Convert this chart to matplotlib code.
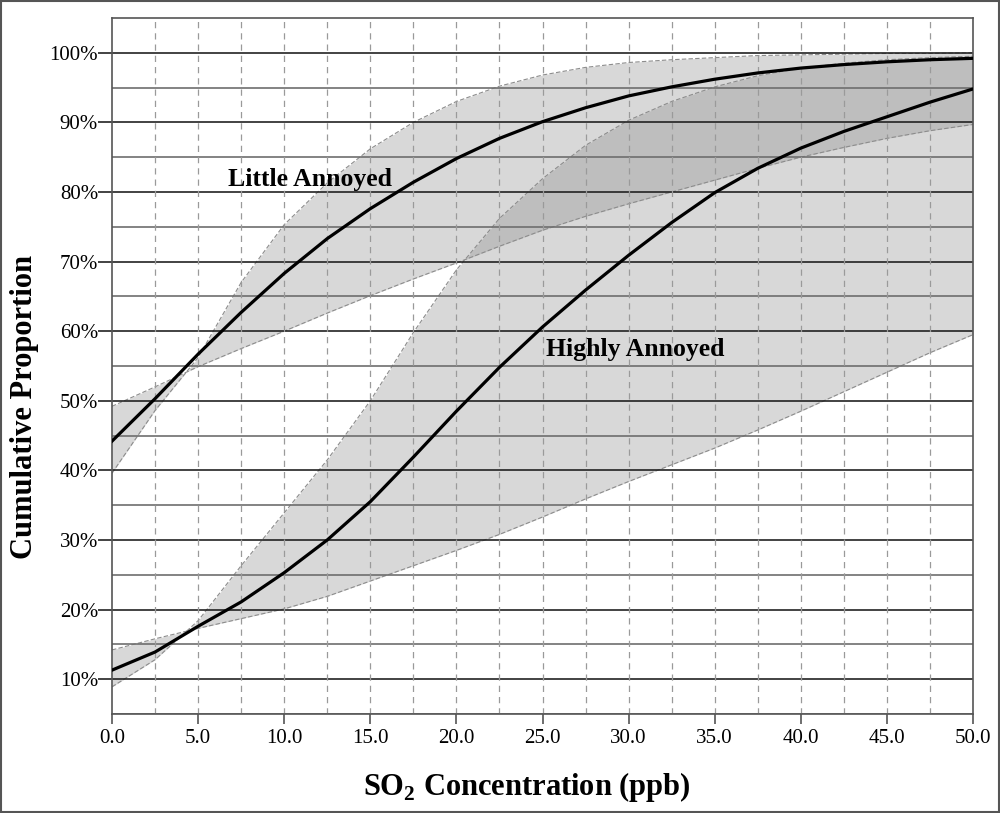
import matplotlib
matplotlib.use("Agg")
import matplotlib.pyplot as plt
from matplotlib.patches import Rectangle
from matplotlib.ticker import MultipleLocator, FuncFormatter

plt.rcParams['font.family'] = ['Liberation Serif', 'DejaVu Serif']
plt.rcParams['mathtext.fontset'] = 'custom'
plt.rcParams['mathtext.rm'] = 'Liberation Serif:bold'
plt.rcParams['mathtext.bf'] = 'Liberation Serif:bold'

# SO2 concentration (ppb)
so2 = [0.0, 2.5, 5.0, 7.5, 10.0, 12.5, 15.0, 17.5, 20.0, 22.5, 25.0,
       27.5, 30.0, 32.5, 35.0, 37.5, 40.0, 42.5, 45.0, 47.5, 50.0]

# Little Annoyed: median and the two bounds of the band (%)
little_mid = [44.2, 50.3, 56.7, 62.7, 68.3, 73.3, 77.6, 81.4, 84.8, 87.7, 90.1,
              92.1, 93.8, 95.1, 96.2, 97.1, 97.8, 98.3, 98.7, 99.0, 99.2]
little_b1 = [39.6, 48.6, 56.2, 67.0, 75.3, 81.3, 86.2, 90.0, 93.0, 95.2, 96.8,
             97.9, 98.6, 99.0, 99.3, 99.6, 99.7, 99.8, 99.9, 99.9, 100.0]
little_b2 = [49.2, 52.0, 54.9, 57.5, 60.0, 62.6, 65.1, 67.5, 69.8, 72.2, 74.5,
             76.5, 78.3, 80.0, 81.7, 83.4, 85.0, 86.4, 87.7, 88.8, 89.7]

# Highly Annoyed: median and the two bounds of the band (%)
highly_mid = [11.3, 13.9, 17.6, 21.1, 25.3, 30.0, 35.5, 41.9, 48.5, 54.8, 60.6,
              65.9, 70.9, 75.6, 79.9, 83.4, 86.3, 88.7, 90.8, 92.9, 94.8]
highly_b1 = [8.9, 12.8, 18.4, 26.3, 33.9, 41.5, 50.0, 59.8, 68.8, 76.2, 81.9,
             86.7, 90.3, 93.0, 95.1, 96.7, 97.8, 98.5, 99.0, 99.3, 99.5]
highly_b2 = [14.2, 15.8, 17.3, 18.7, 20.1, 21.9, 24.1, 26.3, 28.5, 30.8, 33.3,
             35.9, 38.4, 40.8, 43.2, 45.8, 48.5, 51.3, 54.1, 56.9, 59.5]

fig = plt.figure(figsize=(10, 8.13), dpi=100)
ax = fig.add_axes([0.112, 0.1218, 0.861, 0.8561])

# bands
for b1, b2 in [(little_b1, little_b2), (highly_b1, highly_b2)]:
    ax.fill_between(so2, b1, b2, color='#8a8a8a', alpha=0.33, lw=0, zorder=1)
    ax.plot(so2, b1, color='#8c8c8c', lw=0.8, ls=(0, (4, 2)), zorder=1.5)
    ax.plot(so2, b2, color='#8c8c8c', lw=0.8, ls=(0, (4, 2)), zorder=1.5)

ax.plot(so2, little_mid, color='black', lw=2.3, zorder=3)
ax.plot(so2, highly_mid, color='black', lw=2.3, zorder=3)

# grid
for v in range(5, 105, 5):
    ax.axhline(v, color='#222222' if v % 10 == 0 else '#6e6e6e', lw=1.2, zorder=2)
for v in [2.5 * i for i in range(1, 20)]:
    ax.axvline(v, color='#9a9a9a', lw=0.9, ls=(0, (5, 4)), zorder=2)

ax.set_xlim(0, 50)
ax.set_ylim(5, 105)
ax.xaxis.set_major_locator(MultipleLocator(5))
ax.set_yticks(range(10, 101, 10))
ax.xaxis.set_major_formatter(FuncFormatter(lambda v, p: f"{v:.1f}"))
ax.yaxis.set_major_formatter(FuncFormatter(lambda v, p: f"{int(v)}%"))
ax.tick_params(axis='y', length=10, width=1.2, color='#222222', pad=0, labelsize=15)
ax.tick_params(axis='x', length=7, width=1.2, color='#555555', pad=4, labelsize=15)
for s in ax.spines.values():
    s.set_color('#555555')
    s.set_linewidth(1.2)

ax.text(11.5, 81.8, "Little Annoyed", fontsize=18.5, fontweight='bold',
        ha='center', va='center', zorder=4)
ax.text(30.4, 57.4, "Highly Annoyed", fontsize=18.5, fontweight='bold',
        ha='center', va='center', zorder=4)

fig.text(0.025, 0.5, "Cumulative Proportion", rotation=90, fontsize=22,
         fontweight='bold', ha='center', va='center')
fig.text(0.527, 0.032, r"SO$_{\mathrm{2}}$ Concentration (ppb)", fontsize=22,
         fontweight='bold', ha='center', va='center')

fig.add_artist(Rectangle((0.001, 0.001), 0.998, 0.998, transform=fig.transFigure,
                         fill=False, edgecolor='#555555', lw=1.5))

fig.savefig("out.png", dpi=100)
